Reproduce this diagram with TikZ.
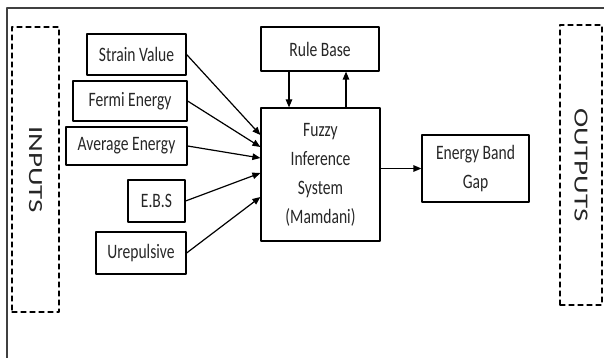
\documentclass[tikz,border=0pt]{standalone}
\usepackage{fontspec}
\setmainfont{Carlito}[FakeStretch=0.76]
\newfontfamily\sidefont{Carlito}[FakeStretch=1.45]
\usetikzlibrary{arrows.meta}
\begin{document}
\begin{tikzpicture}[line cap=round,line join=round,>={Triangle[length=8pt,width=6.5pt]},x=1pt,y=-1pt,
	font=\fontsize{20.5}{29}\selectfont,
	box/.style={draw,line width=1.2pt,inner sep=0pt,align=center,text=black!85},
	sidebox/.style={draw,dashed,dash pattern=on 5pt off 4pt,line width=1.2pt,inner sep=0pt,text=black!85,font=\sidefont\fontsize{20}{24}\selectfont}]
		
		\useasboundingbox (0,0) rectangle (604,358);
		\draw[line width=2pt,black!75] (7,362)--(7,8)--(610,8);
		\node[sidebox,minimum width=47pt,minimum height=285pt] (inp) at (35.5,169.5) {\rotatebox{-90}{INPUTS}};
		\node[sidebox,minimum width=42pt,minimum height=280pt] (outp) at (581,165) {\rotatebox{-90}{OUTPUTS}};
		\node[box,minimum width=99pt,minimum height=41pt] (sv) at (136.5,54.5) {Strain Value};
		\node[box,minimum width=114pt,minimum height=40pt] (fe) at (130,101) {Fermi Energy};
		\node[box,minimum width=121pt,minimum height=38pt] (ae) at (126.5,146) {Average Energy};
		\node[box,minimum width=57pt,minimum height=42pt] (ebs) at (156.5,201) {E.B.S};
		\node[box,minimum width=90pt,minimum height=42pt] (ur) at (141,253) {Urepulsive};
		\node[box,minimum width=118pt,minimum height=44pt] (rb) at (320,49) {Rule Base};
		\node[box,minimum width=119pt,minimum height=133pt] (fis) at (320.5,174.5) {Fuzzy\\Inference\\System\\(Mamdani)};
		\node[box,minimum width=107pt,minimum height=67pt] (ebg) at (475.5,168.5) {Energy Band\\Gap};
		\draw[->,line width=1.2pt] (sv.east)--([yshift=39.5pt]fis.west);
		\draw[->,line width=1.2pt] (fe.east)--([yshift=27.5pt]fis.west);
		\draw[->,line width=1.2pt] (ae.east)--([yshift=16.5pt]fis.west);
		\draw[->,line width=1.2pt] (ebs.east)--([yshift=1.5pt]fis.west);
		\draw[->,line width=1.2pt] (ur.east)--([yshift=-22.5pt]fis.west);
		\draw[->,line width=1.2pt] ([xshift=-31pt]rb.south)--([xshift=-31.5pt]fis.north);
		\draw[->,line width=1.2pt] ([xshift=25.5pt]fis.north)--([xshift=26pt]rb.south);
		\draw[->,line width=1.2pt] (fis.east |- ebg.west)--(ebg.west);
	\end{tikzpicture}
\end{document}
